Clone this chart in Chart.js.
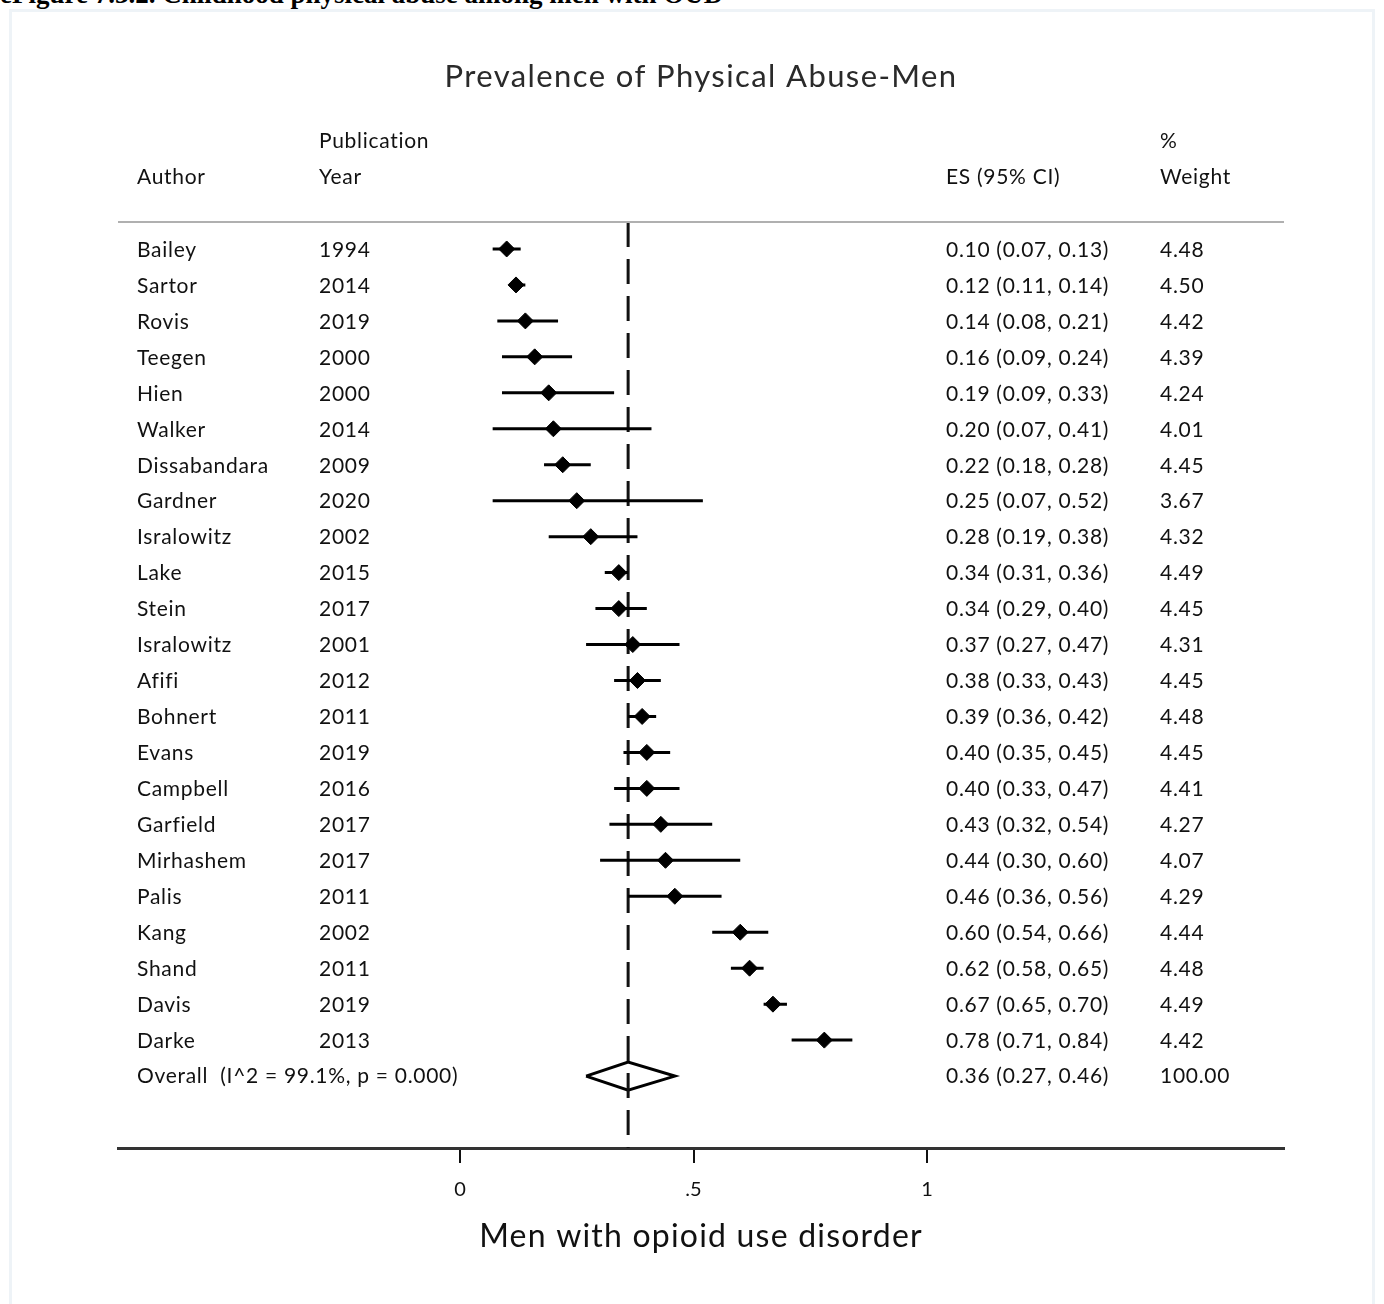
<!DOCTYPE html>
<html>
<head>
<meta charset="utf-8">
<script src="https://cdn.jsdelivr.net/npm/chart.js@4"></script>
<style>
  body { margin: 0; background: #fff; overflow: hidden; }
  #caption { position: absolute; left: 0; top: -19px; font: bold 27px "Liberation Serif", serif; line-height: 27px; white-space: nowrap; color: #000; }
  #frame { position: absolute; left: 9px; top: 9px; width: 1366px; height: 1310px; border: 3px solid #eef3f7; box-sizing: border-box; }
  #wrap { position: absolute; left: 0; top: 0; width: 1384px; height: 1304px; }
</style>
</head>
<body>
<div id="caption">eFigure 7.3.2. Childhood physical abuse among men with OUD</div>
<div id="frame"></div>
<div id="wrap"><canvas id="forest" width="1384" height="1304"></canvas></div>
<script>
// study data
const authors = ['Bailey', 'Sartor', 'Rovis', 'Teegen', 'Hien', 'Walker', 'Dissabandara', 'Gardner', 'Isralowitz', 'Lake', 'Stein', 'Isralowitz', 'Afifi', 'Bohnert', 'Evans', 'Campbell', 'Garfield', 'Mirhashem', 'Palis', 'Kang', 'Shand', 'Davis', 'Darke'];
const years = [1994, 2014, 2019, 2000, 2000, 2014, 2009, 2020, 2002, 2015, 2017, 2001, 2012, 2011, 2019, 2016, 2017, 2017, 2011, 2002, 2011, 2019, 2013];
const es = [0.10, 0.12, 0.14, 0.16, 0.19, 0.20, 0.22, 0.25, 0.28, 0.34, 0.34, 0.37, 0.38, 0.39, 0.40, 0.40, 0.43, 0.44, 0.46, 0.60, 0.62, 0.67, 0.78];
const lower = [0.07, 0.11, 0.08, 0.09, 0.09, 0.07, 0.18, 0.07, 0.19, 0.31, 0.29, 0.27, 0.33, 0.36, 0.35, 0.33, 0.32, 0.30, 0.36, 0.54, 0.58, 0.65, 0.71];
const upper = [0.13, 0.14, 0.21, 0.24, 0.33, 0.41, 0.28, 0.52, 0.38, 0.36, 0.40, 0.47, 0.43, 0.42, 0.45, 0.47, 0.54, 0.60, 0.56, 0.66, 0.65, 0.70, 0.84];
const weights = [4.48, 4.50, 4.42, 4.39, 4.24, 4.01, 4.45, 3.67, 4.32, 4.49, 4.45, 4.31, 4.45, 4.48, 4.45, 4.41, 4.27, 4.07, 4.29, 4.44, 4.48, 4.49, 4.42];

const overallLabel = 'Overall  (I^2 = 99.1%, p = 0.000)';
const overallES = 0.36;
const overallLower = 0.27;
const overallUpper = 0.46;
const overallWeight = 100.00;

const tickValues = [0, 0.5, 1];
const tickLabels = ['0', '.5', '1'];

const chartTitle = 'Prevalence of Physical Abuse-Men';
const xTitle = 'Men with opioid use disorder';

const FONT = 'Lato, "Open Sans", sans-serif';
const nRows = authors.length;
const overallRow = nRows;

// CI segments, broken up with null points
let ciPoints = [];
for (let i = 0; i < nRows; i++) {
    ciPoints.push({x: lower[i], y: i});
    ciPoints.push({x: upper[i], y: i});
    ciPoints.push({x: null, y: null});
}
let esPoints = es.map((v, i) => ({x: v, y: i}));

const dh = 0.39; // half height of the pooled diamond, in rows
let diamond = [
    {x: overallLower, y: overallRow},
    {x: overallES, y: overallRow - dh},
    {x: overallUpper, y: overallRow},
    {x: overallES, y: overallRow + dh},
    {x: overallLower, y: overallRow}
];

const fmt = v => v.toFixed(2);

const textPlugin = {
    id: 'forestText',
    afterDraw(chart) {
        const ctx = chart.ctx;
        const ys = chart.scales.y;
        const area = chart.chartArea;
        ctx.save();
        ctx.fillStyle = '#111';
        ctx.textBaseline = 'middle';
        ctx.textAlign = 'left';
        ctx.font = '21px ' + FONT;
        ctx.letterSpacing = '0.7px';

        const colAuthor = 137, colYear = 319, colES = 946, colW = 1160;
        // header
        ctx.fillText('Publication', colYear, ys.getPixelForValue(-3));
        ctx.fillText('%', colW, ys.getPixelForValue(-3));
        ctx.fillText('Author', colAuthor, ys.getPixelForValue(-2));
        ctx.fillText('Year', colYear, ys.getPixelForValue(-2));
        ctx.fillText('ES (95% CI)', colES, ys.getPixelForValue(-2));
        ctx.fillText('Weight', colW, ys.getPixelForValue(-2));

        for (let i = 0; i < nRows; i++) {
            const y = ys.getPixelForValue(i) + 1;
            ctx.fillText(authors[i], colAuthor, y);
            ctx.fillText(String(years[i]), colYear, y);
            ctx.fillText(fmt(es[i]) + ' (' + fmt(lower[i]) + ', ' + fmt(upper[i]) + ')', colES, y);
            ctx.fillText(fmt(weights[i]), colW, y);
        }
        const yo = ys.getPixelForValue(overallRow);
        ctx.fillText(overallLabel, colAuthor, yo);
        ctx.fillText(fmt(overallES) + ' (' + fmt(overallLower) + ', ' + fmt(overallUpper) + ')', colES, yo);
        ctx.fillText(fmt(overallWeight), colW, yo);

        // line under header
        ctx.strokeStyle = '#b0b0b0';
        ctx.lineWidth = 2;
        ctx.beginPath();
        ctx.moveTo(area.left, area.top);
        ctx.lineTo(area.right, area.top);
        ctx.stroke();

        // title and axis title
        ctx.textAlign = 'center';
        ctx.fillStyle = '#2a2a2a';
        ctx.font = '31px ' + FONT;
        ctx.letterSpacing = '1.4px';
        ctx.fillText(chartTitle, 701, 77);
        ctx.fillStyle = '#111';
        ctx.font = '32px ' + FONT;
        ctx.letterSpacing = '1.2px';
        ctx.fillText(xTitle, (area.left + area.right) / 2, 1237);
        ctx.restore();
    }
};

new Chart(document.getElementById('forest'), {
    type: 'scatter',
    data: {
        datasets: [
            {
                label: 'CI',
                data: ciPoints,
                showLine: true,
                spanGaps: false,
                borderColor: '#000',
                borderWidth: 3,
                pointRadius: 0
            },
            {
                label: 'ES',
                data: esPoints,
                pointStyle: 'rectRot',
                pointRadius: 8,
                backgroundColor: '#000',
                borderColor: '#000',
                borderWidth: 1
            },
            {
                label: 'pooled line',
                data: [{x: overallES, y: -0.75}, {x: overallES, y: 25}],
                showLine: true,
                borderColor: '#111',
                borderWidth: 3,
                borderDash: [25, 12],
                pointRadius: 0
            },
            {
                label: 'pooled',
                data: diamond,
                showLine: true,
                borderColor: '#000',
                borderWidth: 3,
                backgroundColor: '#fff',
                fill: false,
                pointRadius: 0,
                tension: 0
            }
        ]
    },
    plugins: [textPlugin],
    options: {
        responsive: false,
        animation: false,
        devicePixelRatio: 1,
        layout: { padding: { top: 222, left: 118, right: 100, bottom: 0 } },
        plugins: {
            legend: { display: false },
            tooltip: { enabled: false }
        },
        scales: {
            x: {
                type: 'linear',
                min: -0.732,
                max: 1.764,
                afterBuildTicks: s => { s.ticks = tickValues.map(v => ({value: v})); },
                afterFit: s => { s.height = 156; },
                border: { display: true, color: '#333', width: 3 },
                grid: { drawOnChartArea: false, drawTicks: true, tickLength: 15, color: '#111', lineWidth: 2 },
                ticks: {
                    padding: 15,
                    color: '#111',
                    font: { family: FONT, size: 20 },
                    callback: (v) => tickLabels[tickValues.indexOf(v)]
                }
            },
            y: {
                type: 'linear',
                display: false,
                reverse: true,
                min: -0.75,
                max: 25
            }
        }
    }
});
</script>
</body>
</html>
